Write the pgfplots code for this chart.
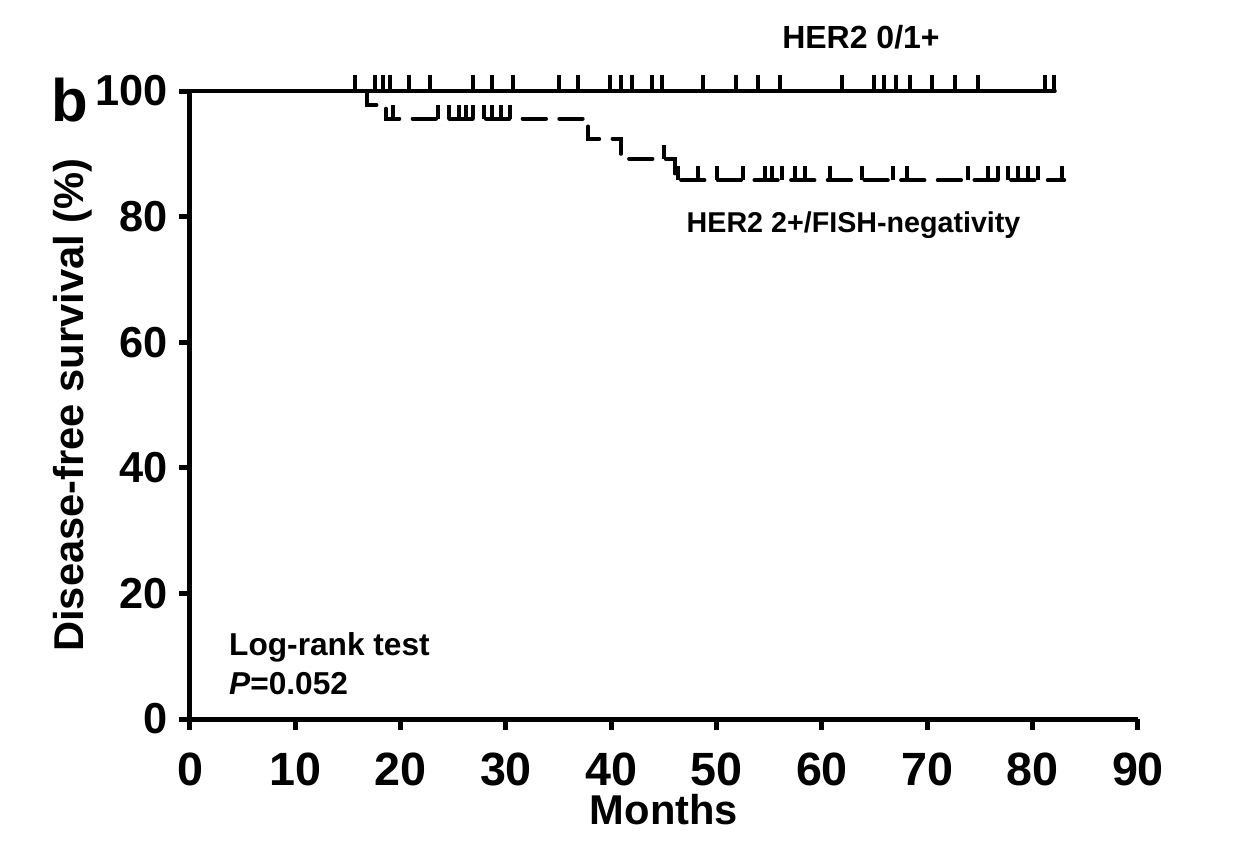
\documentclass[border=0pt]{standalone}
\usepackage{pgfplots}
\pgfplotsset{compat=1.18}
\usepackage{fontspec}
\setmainfont{Liberation Sans}
% censor tick: vertical stroke going up from the curve
\pgfdeclareplotmark{cens}{%
  \pgfpathmoveto{\pgfpointorigin}%
  \pgfpathlineto{\pgfpoint{0pt}{\pgfplotmarksize}}%
  \pgfusepathqstroke}
\begin{document}
\begin{tikzpicture}
\path[use as bounding box] (-57pt,-39pt) rectangle (314.7pt,215.7pt);
\begin{axis}[
  width=284.4pt, height=188.4pt, scale only axis,
  xmin=0, xmax=90, ymin=0, ymax=100,
  axis x line*=bottom, axis y line*=left,
  axis line style={line width=1.5pt, -},
  tick align=outside, major tick length=3.2pt,
  tick style={line width=1.5pt, black},
  xtick={0,10,...,90}, ytick={0,20,...,100},
  /pgf/number format/assume math mode=true,
  xticklabel style={font=\bfseries\fontsize{14}{14}\selectfont, yshift=-3.5pt},
  yticklabel style={font=\bfseries\fontsize{13}{13}\selectfont},
  xlabel={Months}, ylabel={Disease-free survival (\%)},
  label style={font=\bfseries\fontsize{12.5}{12.5}\selectfont},
  xlabel style={yshift=4.5pt},
  ylabel style={yshift=-6pt},
  clip=false,
]
% HER2 0/1+
\addplot[black, line width=1.2pt, const plot, line cap=round]
  coordinates {(0,100) (82.1,100)};
\addplot[only marks, mark=cens, mark size=4.8pt, line width=1.2pt]
  coordinates {
  (15.7,100) (17.6,100) (18.3,100) (19.0,100) (20.8,100) (22.8,100)
  (26.9,100) (28.7,100) (30.7,100) (35.0,100) (36.8,100) (39.9,100)
  (40.9,100) (42.0,100) (43.9,100) (44.8,100) (48.7,100) (51.8,100)
  (53.9,100) (56.0,100) (61.9,100) (64.9,100) (65.9,100) (67.0,100)
  (68.4,100) (70.4,100) (72.6,100) (74.8,100) (81.2,100) (82.0,100)};
% HER2 2+/FISH-negativity
\addplot[black, line width=1.2pt, const plot, line cap=round,
  dash pattern=on 7pt off 4pt]
  coordinates {(16.8,100) (16.8,97.8) (18.6,95.6) (37.8,92.4) (40.9,89.2)
  (46.0,85.8) (83.0,85.8)};
\addplot[only marks, mark=cens, mark size=4.2pt, line width=1.2pt]
  coordinates {
  (19.3,95.6) (23.5,95.6) (24.6,95.6) (25.5,95.6) (26.2,95.6) (26.9,95.6)
  (27.9,95.6) (28.7,95.6) (29.5,95.6) (30.4,95.6)
  (45.0,89.2)
  (46.3,85.8) (48.2,85.8) (50.0,85.8) (52.5,85.8) (54.6,85.8) (55.3,85.8)
  (56.2,85.8) (57.4,85.8) (58.4,85.8) (60.8,85.8) (63.8,85.8) (66.7,85.8)
  (68.1,85.8) (73.9,85.8) (75.8,85.8) (76.7,85.8) (77.7,85.8) (78.6,85.8)
  (79.6,85.8) (80.5,85.8) (82.8,85.8)};
\node[font=\bfseries\fontsize{9.6}{9.6}\selectfont] at (axis cs:63.7,108.6) {HER2 0/1+};
\node[font=\bfseries\fontsize{8.6}{8.6}\selectfont] at (axis cs:63.0,78.7) {HER2 2+/FISH-negativity};
\node[font=\bfseries\fontsize{9.5}{11.5}\selectfont, anchor=west, align=left]
  at (axis cs:2.6,8.8) {Log-rank test\\\textit{P}=0.052};
\node[font=\bfseries\fontsize{18}{18}\selectfont] at (axis cs:-11.4,98.6) {b};
\end{axis}
\end{tikzpicture}
\end{document}
